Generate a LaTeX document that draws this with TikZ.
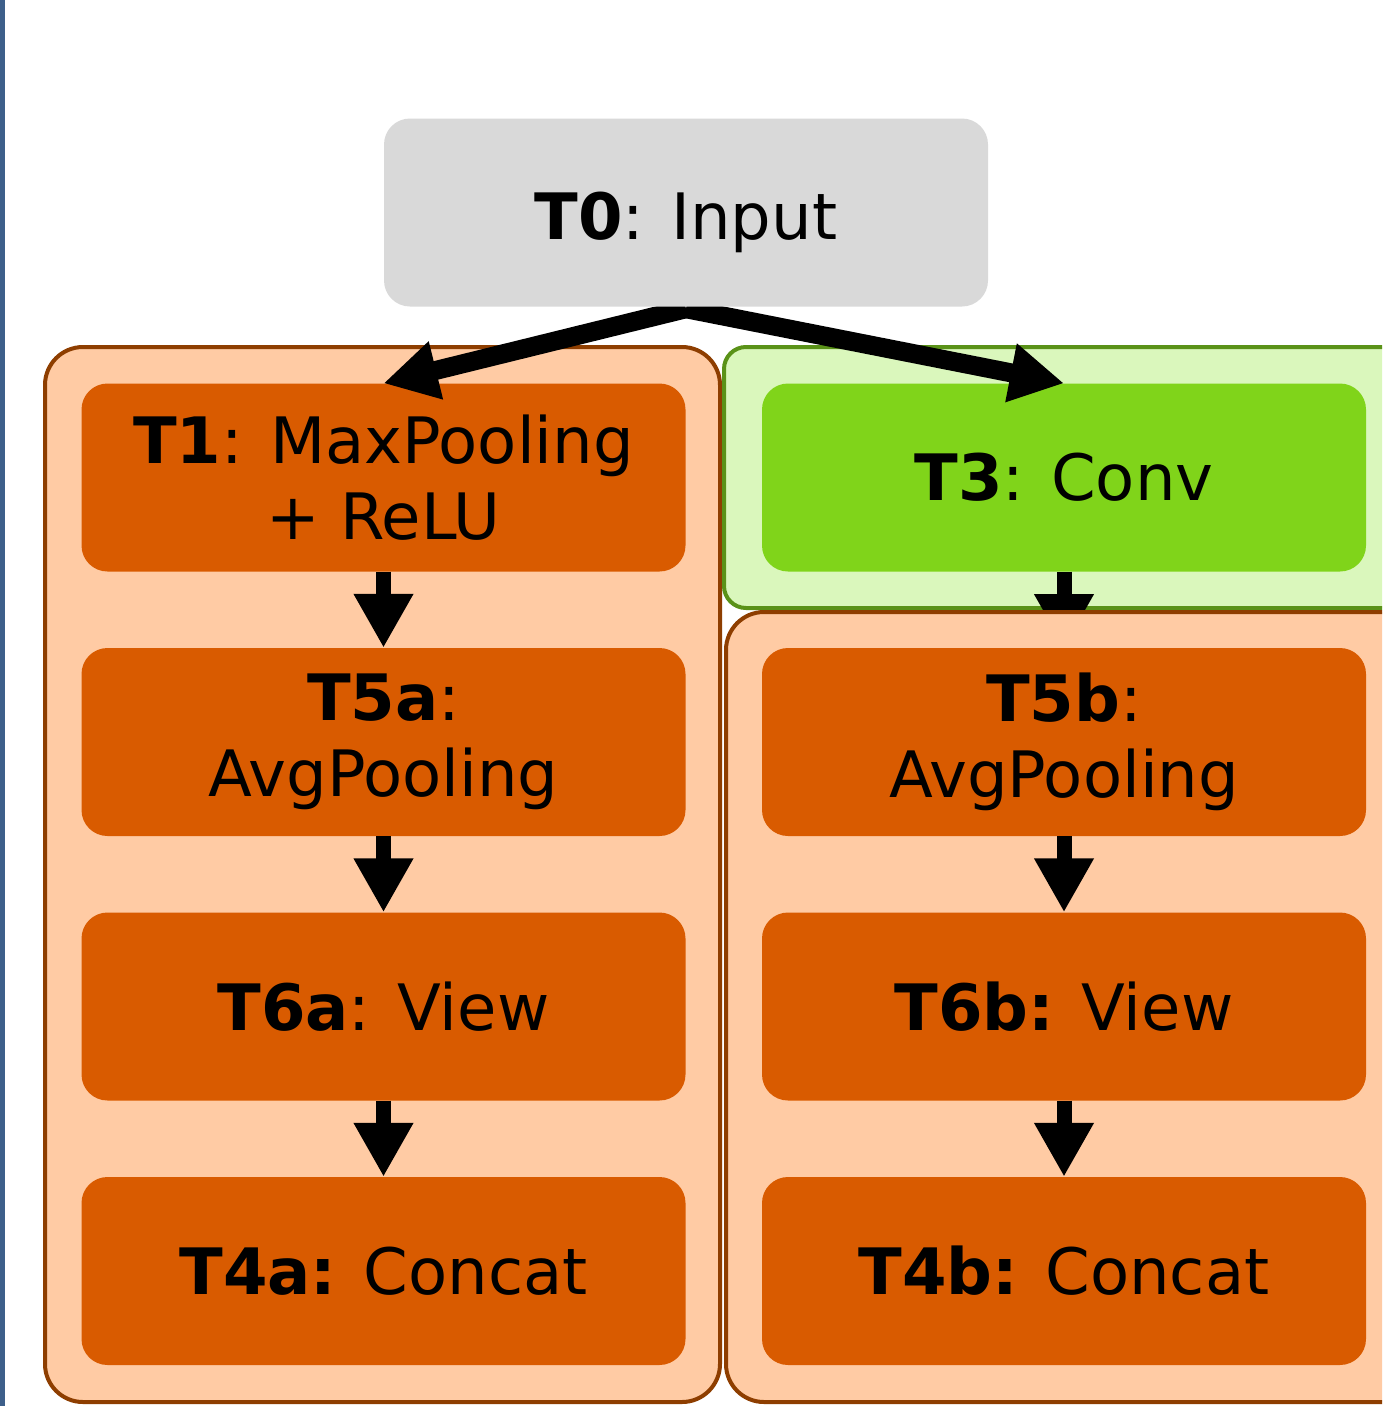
\documentclass[tikz,border=0pt]{standalone}
\usepackage{fontspec}
\setmainfont{DejaVu Sans}
\usetikzlibrary{arrows.meta}
\definecolor{bluebar}{HTML}{3D5F8A}
\definecolor{greybox}{HTML}{D9D9D9}
\definecolor{peach}{HTML}{FFCBA4}
\definecolor{brownline}{HTML}{8E3E00}
\definecolor{orangebox}{HTML}{D95B00}
\definecolor{lightgreen}{HTML}{DAF7BC}
\definecolor{greenline}{HTML}{5A9218}
\definecolor{greenbox}{HTML}{80D41A}
\pgfdeclarelayer{front}
\pgfsetlayers{main,front}
\begin{document}
\begin{tikzpicture}[x=1pt,y=-1pt,
  txt/.style={font=\fontsize{64}{76}\selectfont, align=center, text=black},
  stepbox/.style={txt, rectangle, rounded corners=26pt, minimum width=604pt, minimum height=188pt, inner sep=0pt, fill=orangebox},
  greystep/.style={stepbox, fill=greybox},
  greenstep/.style={stepbox, fill=greenbox},
  orangegroup/.style={rectangle, rounded corners=38pt, draw=brownline, line width=4pt, fill=peach, inner sep=0pt},
  greengroup/.style={rectangle, rounded corners=22pt, draw=greenline, line width=4pt, fill=lightgreen, inner sep=0pt},
  arr/.style={line width=15pt, -{Triangle[width=56pt,length=54pt]}},
  diagarr/.style={arr, line width=19pt}
]
\useasboundingbox (0,0) rectangle (1382,1406);
\clip (0,0) rectangle (1382,1406);
\fill[white] (0,0) rectangle (1382,1406);
\fill[bluebar] (0,0) rectangle (5,1406);

% groups
\node[orangegroup, minimum width=675pt, minimum height=1055pt] (gleft) at (382.5,874.5) {};
\node[greengroup, minimum width=700pt, minimum height=261pt] (ggreen) at (1074,477.5) {};

% nodes
\begin{pgfonlayer}{front}
\node[greystep] (t0) at (686,212.5) {\raisebox{-27pt}[0pt][0pt]{\textbf{T0}: Input}};
\end{pgfonlayer}
\node[stepbox] (t1) at (383.5,477.5) {\textbf{T1}: MaxPooling\\+ ReLU};
\node[greenstep] (t3) at (1064,477.5) {\textbf{T3}: Conv};

\draw[diagarr] ([yshift=-2pt]t0.south) -- (t1.north);
\draw[diagarr] ([yshift=-2pt]t0.south) -- (t3.north);

\draw[arr] (t3.south) -- (1064,648);

\node[orangegroup, minimum width=700pt, minimum height=790pt] (gright) at (1076,1007) {};

\node[stepbox] (t5a) at (383.5,742) {\textbf{T5a}:\\AvgPooling};
\node[stepbox] (t6a) at (383.5,1006.5) {\textbf{T6a}: View};
\node[stepbox] (t4a) at (383.5,1271) {\textbf{T4a:} Concat};
\node[stepbox] (t5b) at (1064,742) {\textbf{T5b}:\\AvgPooling};
\node[stepbox] (t6b) at (1064,1006.5) {\textbf{T6b:} View};
\node[stepbox] (t4b) at (1064,1271) {\textbf{T4b:} Concat};

% connectors
\draw[arr] (t1) -- (t5a);
\draw[arr] (t5a) -- (t6a);
\draw[arr] (t6a) -- (t4a);
\draw[arr] (t5b) -- (t6b);
\draw[arr] (t6b) -- (t4b);
\end{tikzpicture}
\end{document}
